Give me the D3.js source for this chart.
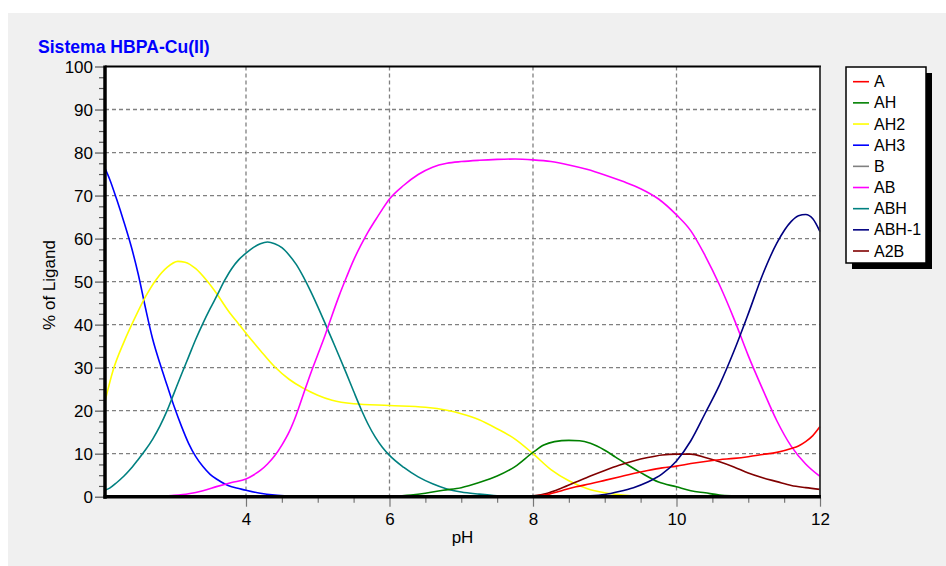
<!DOCTYPE html>
<html>
<head>
<meta charset="utf-8">
<script src="https://cdn.jsdelivr.net/npm/d3@7/dist/d3.min.js"></script>
<style>
  html, body { margin: 0; padding: 0; background: #ffffff; }
  svg { display: block; }
  text { font-family: Arial, "Liberation Sans", sans-serif; }
</style>
</head>
<body>
<svg id="chart" width="946" height="566"></svg>
<script>
// ---------------- DATA ----------------
const chartTitle = "Sistema HBPA-Cu(II)";
const xLabel = "pH";
const yLabel = "% of Ligand";
const seriesNames = ["A", "AH", "AH2", "AH3", "B", "AB", "ABH", "ABH-1", "A2B"];
const seriesColors = ["#ff0000", "#008000", "#ffff00", "#0000ff", "#808080", "#ff00ff", "#008080", "#000080", "#800000"];
const xTicksMajor = [4, 6, 8, 10, 12];
const yTicksMajor = [0, 10, 20, 30, 40, 50, 60, 70, 80, 90, 100];

const dataA = [[7.8,0],[8.0,0.1],[8.2,0.5],[8.4,1.4],[8.6,2.3],[8.8,3.0],[9.0,3.8],[9.2,4.6],[9.4,5.4],[9.6,6.1],[9.8,6.7],[10.0,7.1],[10.2,7.7],[10.4,8.2],[10.6,8.6],[10.8,8.9],[11.0,9.3],[11.2,9.8],[11.4,10.3],[11.6,11.2],[11.7,11.8],[11.8,12.8],[11.9,14.2],[12.0,16.3]];
const dataAH = [[5.8,0],[6.0,0.1],[6.3,0.4],[6.5,0.8],[6.75,1.5],[7.0,2.1],[7.25,3.3],[7.5,4.8],[7.75,7.0],[8.0,10.3],[8.15,12.0],[8.3,12.8],[8.5,13.1],[8.65,13.0],[8.8,12.4],[9.0,10.8],[9.15,9.2],[9.3,7.6],[9.5,5.6],[9.75,3.4],[10.0,2.3],[10.2,1.4],[10.4,0.9],[10.6,0.4],[10.8,0.2],[11.2,0.05],[12.0,0]];
const dataAH2 = [[2.03,21.8],[2.15,29.5],[2.3,36],[2.45,41.5],[2.6,46.5],[2.75,50.5],[2.9,53.3],[3.05,54.7],[3.15,54.5],[3.3,53],[3.45,50.3],[3.6,47],[3.75,43.3],[3.9,40.1],[4.0,38],[4.2,34.0],[4.4,30.2],[4.6,27.3],[4.8,25.2],[5.0,23.6],[5.2,22.4],[5.5,21.6],[6.0,21.2],[6.5,20.8],[6.8,20.1],[7.0,19.3],[7.25,17.9],[7.5,15.8],[7.75,13.4],[8.0,10.0],[8.25,6.3],[8.5,3.7],[8.75,1.9],[9.0,0.9],[9.25,0.4],[9.5,0.1],[9.75,0],[12.0,0]];
const dataAH3 = [[2.03,76.5],[2.1,73.8],[2.2,69],[2.3,63.8],[2.4,58.2],[2.5,51.6],[2.6,43.8],[2.7,36.6],[2.8,31],[2.9,25.9],[3.0,20.9],[3.1,16.4],[3.2,12.4],[3.3,9.3],[3.4,7],[3.5,5.2],[3.6,4],[3.7,3],[3.8,2.3],[3.9,1.9],[4.0,1.5],[4.2,0.8],[4.4,0.4],[4.6,0.2],[4.8,0.1],[5.0,0],[12.0,0]];
const dataB = [[2.03,0],[12.0,0]];
const dataAB = [[2.03,0],[2.8,0.05],[3.0,0.3],[3.2,0.7],[3.4,1.4],[3.6,2.4],[3.8,3.3],[4.0,4.1],[4.1,5.0],[4.2,6.1],[4.3,7.6],[4.4,9.5],[4.5,12.0],[4.6,15.0],[4.7,19],[4.8,23.8],[4.9,28.6],[5.0,33],[5.1,37.4],[5.2,42.2],[5.3,46.8],[5.4,51],[5.5,55],[5.6,58.4],[5.7,61.5],[5.8,64.2],[5.9,66.8],[6.0,69.2],[6.2,72.4],[6.4,74.9],[6.6,76.6],[6.8,77.5],[7.0,77.9],[7.25,78.2],[7.5,78.4],[7.75,78.5],[8.0,78.3],[8.25,77.9],[8.5,77.1],[8.75,76.1],[9.0,74.8],[9.25,73.3],[9.5,71.6],[9.75,69.2],[10.0,65.5],[10.2,61.8],[10.4,56],[10.6,49.2],[10.8,41.4],[11.0,32.8],[11.2,25],[11.4,17.6],[11.6,11.7],[11.8,7.6],[12.0,4.7]];
const dataABH = [[2.03,1.5],[2.1,2.0],[2.2,3.3],[2.3,4.8],[2.4,6.6],[2.5,8.7],[2.6,10.9],[2.7,13.4],[2.8,16.4],[2.9,20.0],[3.0,24.2],[3.1,28.4],[3.2,32.5],[3.3,36.6],[3.4,40.3],[3.5,43.7],[3.6,46.9],[3.7,50.2],[3.8,53.0],[3.9,55.1],[4.0,56.6],[4.1,57.9],[4.2,58.8],[4.3,59.2],[4.4,58.8],[4.5,57.9],[4.6,56.2],[4.7,54.0],[4.8,51.1],[4.9,47.8],[5.0,44.2],[5.1,40.4],[5.2,36.5],[5.3,32.6],[5.4,28.6],[5.5,24.5],[5.6,20.5],[5.7,16.9],[5.8,13.9],[5.9,11.5],[6.0,9.6],[6.2,6.8],[6.4,4.6],[6.6,3.0],[6.8,1.8],[7.0,1.1],[7.25,0.6],[7.5,0.2],[7.75,0],[12.0,0]];
const dataABHm1 = [[8.3,0],[8.5,0.05],[8.8,0.2],[9.0,0.5],[9.2,1.2],[9.4,2.1],[9.6,3.4],[9.8,5.3],[10.0,8.3],[10.2,13],[10.4,19.4],[10.6,26],[10.8,33.8],[11.0,42.5],[11.2,51.6],[11.4,59.0],[11.6,64.0],[11.7,65.3],[11.8,65.6],[11.9,64.6],[12.0,61.6]];
const dataA2B = [[7.8,0],[8.0,0.2],[8.2,0.8],[8.4,2.0],[8.6,3.4],[8.8,4.8],[9.0,6.1],[9.2,7.3],[9.4,8.3],[9.6,9.1],[9.8,9.7],[10.0,9.9],[10.2,9.9],[10.4,9.1],[10.6,8.1],[10.8,6.9],[11.0,5.5],[11.2,4.4],[11.4,3.5],[11.6,2.6],[11.8,2.1],[12.0,1.7]];

const seriesData = [dataA, dataAH, dataAH2, dataAH3, dataB, dataAB, dataABH, dataABHm1, dataA2B];
// draw order (back to front)
const drawOrder = [4, 3, 2, 6, 5, 1, 8, 0, 7];

// ---------------- LAYOUT ----------------
const svg = d3.select("#chart");
const W = 946, H = 566;
const plot = { left: 105, right: 820, top: 66.5, bottom: 496.7 };

svg.append("rect").attr("x", 0).attr("y", 0).attr("width", W).attr("height", H).attr("fill", "#ffffff");
svg.append("rect").attr("x", 8).attr("y", 13).attr("width", W - 8).attr("height", H - 13).attr("fill", "#f0f0f0");

const x = d3.scaleLinear().domain([2.035, 12]).range([plot.left, plot.right]);
const y = d3.scaleLinear().domain([0, 100]).range([plot.bottom, plot.top]);

// plot background
svg.append("rect")
  .attr("x", plot.left).attr("y", plot.top)
  .attr("width", plot.right - plot.left).attr("height", plot.bottom - plot.top)
  .attr("fill", "#ffffff");

// grid
const grid = svg.append("g").attr("stroke", "#808080").attr("stroke-width", 1.3).attr("stroke-dasharray", "4,3");
xTicksMajor.filter(v => v < 12).forEach(v => {
  grid.append("line").attr("x1", x(v)).attr("x2", x(v)).attr("y1", plot.top).attr("y2", plot.bottom);
});
yTicksMajor.filter(v => v > 0 && v < 100).forEach(v => {
  grid.append("line").attr("x1", plot.left).attr("x2", plot.right).attr("y1", y(v)).attr("y2", y(v));
});

// curves
const line = d3.line().x(d => x(d[0])).y(d => y(d[1])).curve(d3.curveMonotoneX);
const curves = svg.append("g").attr("fill", "none").attr("stroke-width", 1.6);
drawOrder.forEach(i => {
  curves.append("path").datum(seriesData[i]).attr("d", line).attr("stroke", seriesColors[i]);
});

// frame: top and right thinner
svg.append("line").attr("x1", plot.left).attr("x2", plot.right + 1).attr("y1", plot.top).attr("y2", plot.top)
  .attr("stroke", "#000").attr("stroke-width", 1.8);
svg.append("line").attr("x1", plot.right).attr("x2", plot.right).attr("y1", plot.top).attr("y2", plot.bottom)
  .attr("stroke", "#333").attr("stroke-width", 1.8);

// axes with d3
const yAxis = d3.axisLeft(y).tickValues(yTicksMajor).tickSize(9).tickPadding(2).tickFormat(d3.format("d"));
const gy = svg.append("g").attr("transform", `translate(${plot.left - 1},0)`).call(yAxis);
gy.select(".domain").remove();
gy.selectAll(".tick line").attr("stroke", "#555").attr("stroke-width", 1.2);
gy.selectAll(".tick text").attr("font-size", 17).attr("fill", "#000").attr("dy", "0.36em");

const yMinor = d3.range(0, 100.01, 2.5).filter(v => v % 10 !== 0);
const gym = svg.append("g").attr("transform", `translate(${plot.left - 1},0)`)
  .call(d3.axisLeft(y).tickValues(yMinor).tickSize(5).tickFormat(""));
gym.select(".domain").remove();
gym.selectAll(".tick line").attr("stroke", "#555").attr("stroke-width", 1.2);

const xAxis = d3.axisBottom(x).tickValues(xTicksMajor).tickSize(9).tickPadding(6).tickFormat(d3.format("d"));
const gx = svg.append("g").attr("transform", `translate(0,${plot.bottom + 1})`).call(xAxis);
gx.select(".domain").remove();
gx.selectAll(".tick line").attr("stroke", "#777").attr("stroke-width", 1.2);
gx.selectAll(".tick text").attr("font-size", 17).attr("fill", "#000");

const xMinor = d3.range(4.5, 12, 0.5).filter(v => v % 2 !== 0);
const gxm = svg.append("g").attr("transform", `translate(0,${plot.bottom + 1})`)
  .call(d3.axisBottom(x).tickValues(xMinor).tickSize(5).tickFormat(""));
gxm.select(".domain").remove();
gxm.selectAll(".tick line").attr("stroke", "#777").attr("stroke-width", 1.2);

// thick left and bottom axis lines
svg.append("line").attr("x1", plot.left).attr("x2", plot.left).attr("y1", plot.top - 1).attr("y2", plot.bottom + 2)
  .attr("stroke", "#000").attr("stroke-width", 3.5);
svg.append("line").attr("x1", plot.left - 1.5).attr("x2", plot.right + 1).attr("y1", plot.bottom).attr("y2", plot.bottom)
  .attr("stroke", "#000").attr("stroke-width", 3.5);

// labels
svg.append("text").attr("x", 38).attr("y", 53).attr("font-size", 17.6).attr("font-weight", "bold")
  .attr("fill", "#0000ff").text(chartTitle);
svg.append("text").attr("x", (plot.left + plot.right) / 2).attr("y", 543).attr("font-size", 17)
  .attr("text-anchor", "middle").attr("fill", "#000").text(xLabel);
svg.append("text").attr("transform", "translate(55,285) rotate(-90)").attr("font-size", 17)
  .attr("text-anchor", "middle").attr("fill", "#000").text(yLabel);

// legend
const lg = { x: 846, y: 67, w: 80, h: 196 };
svg.append("rect").attr("x", lg.x + 6).attr("y", lg.y + 6).attr("width", lg.w).attr("height", lg.h).attr("fill", "#000");
svg.append("rect").attr("x", lg.x).attr("y", lg.y).attr("width", lg.w).attr("height", lg.h)
  .attr("fill", "#fff").attr("stroke", "#000").attr("stroke-width", 1.5);
const rowY = d3.scalePoint().domain(seriesNames).range([81.7, 251]);
seriesNames.forEach((name, i) => {
  const ry = rowY(name);
  svg.append("line").attr("x1", 853).attr("x2", 869).attr("y1", ry).attr("y2", ry)
    .attr("stroke", seriesColors[i]).attr("stroke-width", 1.6);
  svg.append("text").attr("x", 874).attr("y", ry + 5.5).attr("font-size", 16).attr("fill", "#000").text(name);
});
</script>
</body>
</html>
